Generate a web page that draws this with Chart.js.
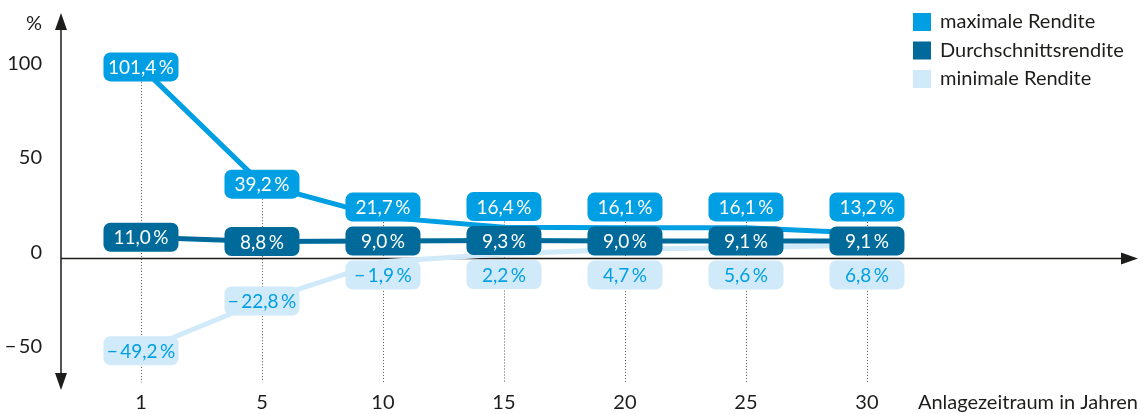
<!DOCTYPE html>
<html>
<head>
<meta charset="utf-8">
<title>Rendite nach Anlagezeitraum</title>
<script src="https://cdn.jsdelivr.net/npm/chart.js@4/dist/chart.umd.min.js"></script>
<style>
  body { margin: 0; background: #fff; }
</style>
</head>
<body>
<canvas id="chart" width="1143" height="414"></canvas>
<script>
const years = ["1", "5", "10", "15", "20", "25", "30"];
const maxReturn = [101.4, 39.2, 21.7, 16.4, 16.1, 16.1, 13.2];
const avgReturn = [11.0, 8.8, 9.0, 9.3, 9.0, 9.1, 9.1];
const minReturn = [-49.2, -22.8, -1.9, 2.2, 4.7, 5.6, 6.8];
const yTicks = [-50, 0, 50, 100];

const FONT = "Lato";
const INK = "#1d1d1b";
const fmt = v => (v < 0 ? "\u2212\u2009" : "") + Math.abs(v).toFixed(1).replace(".", ",") + "\u2009%";
const points = arr => arr.map((v, i) => ({ x: i, y: v }));

function roundBox(ctx, cx, cy, w, h, r) {
  const x = cx - w / 2, y = cy - h / 2;
  ctx.beginPath();
  ctx.moveTo(x + r, y);
  ctx.arcTo(x + w, y, x + w, y + h, r);
  ctx.arcTo(x + w, y + h, x, y + h, r);
  ctx.arcTo(x, y + h, x, y, r);
  ctx.arcTo(x, y, x + w, y, r);
  ctx.closePath();
  ctx.fill();
}

// label rows: keep the three boxes apart when the values are close
function labelRows(chart, i) {
  const y = chart.scales.y;
  const a = y.getPixelForValue(avgReturn[i]);
  return {
    max: Math.min(y.getPixelForValue(maxReturn[i]), a - 34),
    avg: a,
    min: Math.max(y.getPixelForValue(minReturn[i]), a + 34)
  };
}

const decor = {
  id: "decor",
  beforeDatasetsDraw(chart) {
    const { ctx, scales: { x, y } } = chart;
    const x0 = x.getPixelForValue(x.min);
    const y0 = Math.round(y.getPixelForValue(0)) + 0.5;

    // dotted guides
    ctx.save();
    ctx.strokeStyle = "#555";
    ctx.lineWidth = 1;
    ctx.setLineDash([1, 2]);
    years.forEach((_, i) => {
      const px = Math.round(x.getPixelForValue(i)) + 0.5;
      ctx.beginPath();
      ctx.moveTo(px, labelRows(chart, i).max);
      ctx.lineTo(px, y.getPixelForValue(-66));
      ctx.stroke();
    });
    ctx.restore();

    // axes with arrows
    ctx.save();
    ctx.strokeStyle = INK;
    ctx.fillStyle = INK;
    ctx.lineWidth = 1.5;
    ctx.beginPath();
    ctx.moveTo(x0, y.top + 10);
    ctx.lineTo(x0, y.bottom - 10);
    ctx.moveTo(x0, y0);
    ctx.lineTo(x.right - 10, y0);
    ctx.stroke();
    ctx.beginPath();
    ctx.moveTo(x0, y.top); ctx.lineTo(x0 - 6, y.top + 17); ctx.lineTo(x0 + 6, y.top + 17); ctx.closePath();
    ctx.moveTo(x0, y.bottom); ctx.lineTo(x0 - 6, y.bottom - 17); ctx.lineTo(x0 + 6, y.bottom - 17); ctx.closePath();
    ctx.moveTo(x.right, y0); ctx.lineTo(x.right - 17, y0 - 6); ctx.lineTo(x.right - 17, y0 + 6); ctx.closePath();
    ctx.fill();

    // tick labels
    ctx.font = "20px " + FONT;
    ctx.textBaseline = "middle";
    ctx.textAlign = "right";
    yTicks.forEach(t => {
      const label = (t < 0 ? "\u2212\u2009" : "") + Math.abs(t);
      ctx.fillText(label, x0 - 19, y.getPixelForValue(t) - 6);
    });
    ctx.fillText("%", x0 - 19, y.top + 11);
    ctx.textAlign = "center";
    years.forEach((t, i) => ctx.fillText(t, x.getPixelForValue(i), y.bottom + 13));
    ctx.textAlign = "right";
    ctx.fillText("Anlagezeitraum in Jahren", x.right, y.bottom + 13);

    // legend
    ctx.textAlign = "left";
    chart.data.datasets.forEach((ds, k) => {
      const ly = y.top + 9 + k * 28.5;
      ctx.fillStyle = ds.borderColor;
      ctx.fillRect(913, ly - 9, 18, 18);
      ctx.fillStyle = INK;
      ctx.fillText(ds.label, 940, ly);
    });
    ctx.restore();
  },
  afterDatasetsDraw(chart) {
    const { ctx, scales: { x } } = chart;
    const styles = [
      { key: "max", data: maxReturn, fill: "#009fe3", text: "#ffffff" },
      { key: "avg", data: avgReturn, fill: "#006b9b", text: "#ffffff" },
      { key: "min", data: minReturn, fill: "#d0eaf9", text: "#009fe3" }
    ];
    ctx.save();
    ctx.font = "19px " + FONT;
    ctx.textAlign = "center";
    ctx.textBaseline = "middle";
    years.forEach((_, i) => {
      const rows = labelRows(chart, i);
      const px = x.getPixelForValue(i);
      styles.forEach(s => {
        ctx.fillStyle = s.fill;
        roundBox(ctx, px, rows[s.key], 75, 29, 7);
        ctx.fillStyle = s.text;
        ctx.fillText(fmt(s.data[i]), px, rows[s.key] + 1);
      });
    });
    ctx.restore();
  }
};

new Chart(document.getElementById("chart"), {
  type: "line",
  data: {
    datasets: [
      { label: "maximale Rendite", data: points(maxReturn), borderColor: "#009fe3" },
      { label: "Durchschnittsrendite", data: points(avgReturn), borderColor: "#006b9b" },
      { label: "minimale Rendite", data: points(minReturn), borderColor: "#d0eaf9" }
    ]
  },
  options: {
    responsive: false,
    animation: false,
    devicePixelRatio: 1,
    layout: { padding: { left: 61, right: 5, top: 13, bottom: 24 } },
    elements: {
      line: { borderWidth: 5, tension: 0, borderCapStyle: "round" },
      point: { radius: 0 }
    },
    scales: {
      x: { type: "linear", display: false, min: -0.661, max: 8.24 },
      y: { type: "linear", display: false, min: -70, max: 130 }
    },
    plugins: {
      legend: { display: false },
      tooltip: { enabled: false }
    }
  },
  plugins: [decor]
});
</script>
</body>
</html>
